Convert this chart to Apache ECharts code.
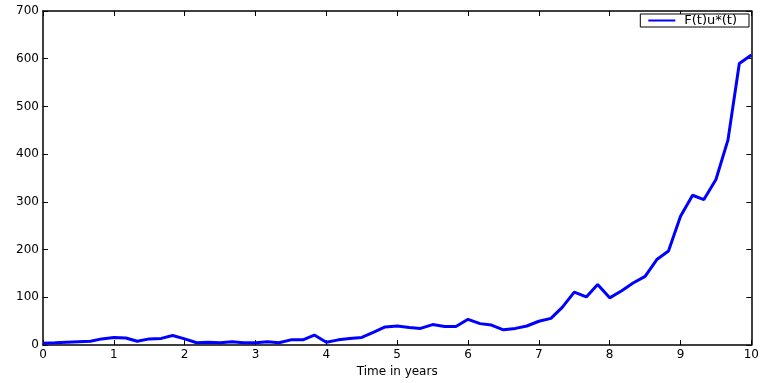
<!DOCTYPE html>
<html>
<head>
<meta charset="utf-8">
<script src="https://cdn.jsdelivr.net/npm/echarts@6/dist/echarts.min.js"></script>
<style>html,body{margin:0;padding:0;background:#fff}#c{width:762px;height:383px}</style>
</head>
<body>
<div id="c"></div>
<script>
const times = [0,0.17,0.33,0.5,0.67,0.83,1,1.17,1.33,1.5,1.67,1.83,2,2.17,2.33,2.5,2.67,2.83,3,3.17,3.33,3.5,3.67,3.83,4,4.17,4.33,4.5,4.67,4.83,5,5.17,5.33,5.5,5.67,5.83,6,6.17,6.33,6.5,6.67,6.83,7,7.17,7.33,7.5,7.67,7.83,8,8.17,8.33,8.5,8.67,8.83,9,9.17,9.33,9.5,9.67,9.83,10];
const values = [4,5,6,7,8,13,16,15,8,13,14,20,13,5,6,5,7,5,5,7,5,11,11,21,6,11,14,16,27,38,40,37,35,43,39,39,54,45,42,32,35,40,50,56,79,111,101,127,99,114,130,144,180,197,270,314,305,347,430,590,608];
const seriesName = 'F(t)u*(t)';
const xTitle = 'Time in years';

const chart = echarts.init(document.getElementById('c'));
const font = 'DejaVu Sans, Verdana, sans-serif';
const lineStyle = {color:'#000', width:1.5};
const axisLine = {show:true, onZero:false, lineStyle:lineStyle};
const tick = {show:true, inside:true, length:5, lineStyle:{color:'#000', width:1}};
chart.setOption({
  animation:false,
  grid:{left:43, right:7, top:11, bottom:30, containLabel:false},
  legend:{
    right:13, top:14, orient:'vertical',
    backgroundColor:'#fff', borderColor:'#000', borderWidth:1, borderRadius:0,
    padding:[0,12,0,8], itemWidth:27, itemHeight:2, itemGap:0,
    textStyle:{fontFamily:font, fontSize:13, lineHeight:13, color:'#000', padding:[0,0,0,4]},
    data:[{name:seriesName, icon:'rect'}]
  },
  xAxis:[{
    type:'value', min:0, max:10, interval:1, position:'bottom',
    axisLine:axisLine, axisTick:tick,
    axisLabel:{fontFamily:font, fontSize:12, color:'#000', margin:4},
    splitLine:{show:false},
    name:xTitle, nameLocation:'middle', nameGap:16,
    nameTextStyle:{fontFamily:font, fontSize:12, color:'#000'}
  },{
    type:'value', min:0, max:10, interval:1, position:'top',
    axisLine:axisLine, axisTick:tick,
    axisLabel:{show:false}, splitLine:{show:false}
  }],
  yAxis:[{
    type:'value', min:0, max:700, interval:100, position:'left',
    axisLine:axisLine, axisTick:tick,
    axisLabel:{fontFamily:font, fontSize:12, color:'#000', margin:4},
    splitLine:{show:false}
  },{
    type:'value', min:0, max:700, interval:100, position:'right',
    axisLine:axisLine, axisTick:tick,
    axisLabel:{show:false}, splitLine:{show:false}
  }],
  series:[{
    name:seriesName, type:'line', xAxisIndex:0, yAxisIndex:0,
    data: times.map((t,i)=>[t, values[i]]),
    showSymbol:false, symbol:'none',
    lineStyle:{color:'#0000ff', width:3}, itemStyle:{color:'#0000ff'}
  }]
});
</script>
</body>
</html>
